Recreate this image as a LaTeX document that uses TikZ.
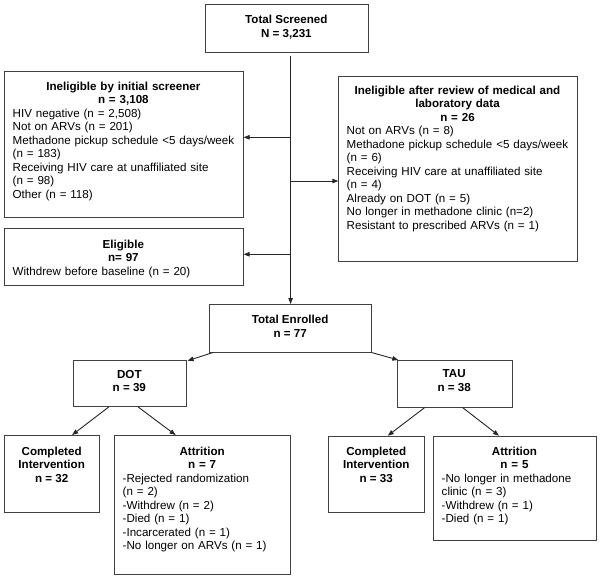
\documentclass[tikz,border=0pt]{standalone}
\usepackage{fontspec}
\setmainfont{Liberation Sans}
\usetikzlibrary{arrows.meta,calc}
\tikzset{
  boxst/.style={draw=black!75, line width=0.9pt, inner sep=0pt, anchor=north west},
  ctxt/.style={inner sep=0pt, anchor=north, align=center, font=\fontsize{11.6}{13.5}\selectfont\bfseries},
  btxt/.style={inner sep=0pt, anchor=north, font=\fontsize{11.6}{13.5}\selectfont},
  link/.style={draw=black!85, line width=0.9pt, -{Triangle[length=6pt,width=4.5pt]}},
}
\begin{document}
\begin{tikzpicture}[x=1pt,y=-1pt]
\useasboundingbox[fill=white] (0,0) rectangle (600,579);

% boxes
\node[boxst, minimum width=162.7pt, minimum height=47.7pt] (TS) at (205,4) {};
\node[boxst, minimum width=238.7pt, minimum height=145.7pt] (IS) at (4,71) {};
\node[boxst, minimum width=238.4pt, minimum height=185pt] (IR) at (338.3,76) {};
\node[boxst, minimum width=238.7pt, minimum height=56.7pt] (EL) at (4,228.3) {};
\node[boxst, minimum width=161.7pt, minimum height=47.7pt] (TE) at (209.3,304) {};
\node[boxst, minimum width=113.3pt, minimum height=46pt] (DOT) at (72.7,360) {};
\node[boxst, minimum width=115pt, minimum height=46.7pt] (TAU) at (396.7,360) {};
\node[boxst, minimum width=95.3pt, minimum height=76.7pt] (CI1) at (4,435) {};
\node[boxst, minimum width=175.7pt, minimum height=139pt] (AT1) at (114.3,435) {};
\node[boxst, minimum width=96pt, minimum height=76pt] (CI2) at (328.3,435.7) {};
\node[boxst, minimum width=162.4pt, minimum height=104.3pt] (AT2) at (433.3,435.7) {};

% texts
\node[ctxt] (TS-t) at (286.35,15.2) {Total Screened\\ N = 3,231};
\node[btxt, text width=221.3pt] (IS-t) at (123.35,81.8) {{\centering\bfseries Ineligible by initial screener\\ n = 3,108\par}\raggedright
HIV negative (n = 2,508)\\ Not on ARVs (n = 201)\\ \mbox{Methadone pickup schedule <5 days/week}\\ (n = 183)\\ Receiving HIV care at unaffiliated site\\ (n = 98)\\ Other (n = 118)};
\node[btxt, text width=221.6pt] (IR-t) at (457.5,85.8) {{\centering\bfseries Ineligible after review of medical and\\ laboratory data\\ n = 26\par}\raggedright
Not on ARVs (n = 8)\\ \mbox{Methadone pickup schedule <5 days/week}\\ (n = 6)\\ Receiving HIV care at unaffiliated site\\ (n = 4)\\ Already on DOT (n = 5)\\ No longer in methadone clinic (n=2)\\ Resistant to prescribed ARVs (n = 1)};
\node[btxt, text width=221.3pt] (EL-t) at (123.35,239.8) {{\centering\bfseries Eligible\\ n= 97\par}\raggedright
Withdrew before baseline (n = 20)};
\node[ctxt] (TE-t) at (290.15,315.1) {Total Enrolled\\ n = 77};
\node[ctxt] (DOT-t) at (129.35,369.8) {DOT\\ n = 39};
\node[ctxt] (TAU-t) at (454.2,369.8) {TAU\\ n = 38};
\node[ctxt] (CI1-t) at (51.65,446.5) {Completed\\ Intervention\\ n = 32};
\node[btxt, text width=158.9pt] (AT1-t) at (202.15,446.5) {{\centering\bfseries Attrition\\ n = 7\par}\raggedright
-Rejected randomization\\ (n = 2)\\ -Withdrew (n = 2)\\ -Died (n = 1)\\ -Incarcerated (n = 1)\\ -No longer on ARVs (n = 1)};
\node[ctxt] (CI2-t) at (376.3,446.5) {Completed\\ Intervention\\ n = 33};
\node[btxt, text width=145.6pt] (AT2-t) at (514.5,446.5) {{\centering\bfseries Attrition\\ n = 5\par}\raggedright
-No longer in methadone\\ clinic (n = 3)\\ -Withdrew (n = 1)\\ -Died (n = 1)};

% connectors
\coordinate (j1) at (290.15,137.3);
\coordinate (j2) at (290.15,181);
\coordinate (j3) at (290.15,254.3);
\draw[link, shorten <=3pt] (TS.south -| TE.north) -- (TE.north);
\draw[link] (j1) -- (j1 -| IS.east);
\draw[link] (j2) -- (j2 -| IR.west);
\draw[link] (j3) -- (j3 -| EL.east);
\draw[link] ($(TE.south west)+(3.4,0)$) -- ($(DOT.north east)+(0.7,0.7)$);
\draw[link] (TE.south east) -- ($(TAU.north west)+(1.6,0)$);
\draw[link] ($(DOT.south)+(-21,0)$) -- ($(CI1.north)+(20,0)$);
\draw[link] ($(DOT.south)+(8.3,0)$) -- ($(AT1.north)+(-27,0)$);
\draw[link] ($(TAU.south)+(-30,0)$) -- ($(CI2.north)+(11,0)$);
\draw[link] ($(TAU.south)+(8,0)$) -- ($(AT2.north)+(-16,0)$);
\end{tikzpicture}
\end{document}
